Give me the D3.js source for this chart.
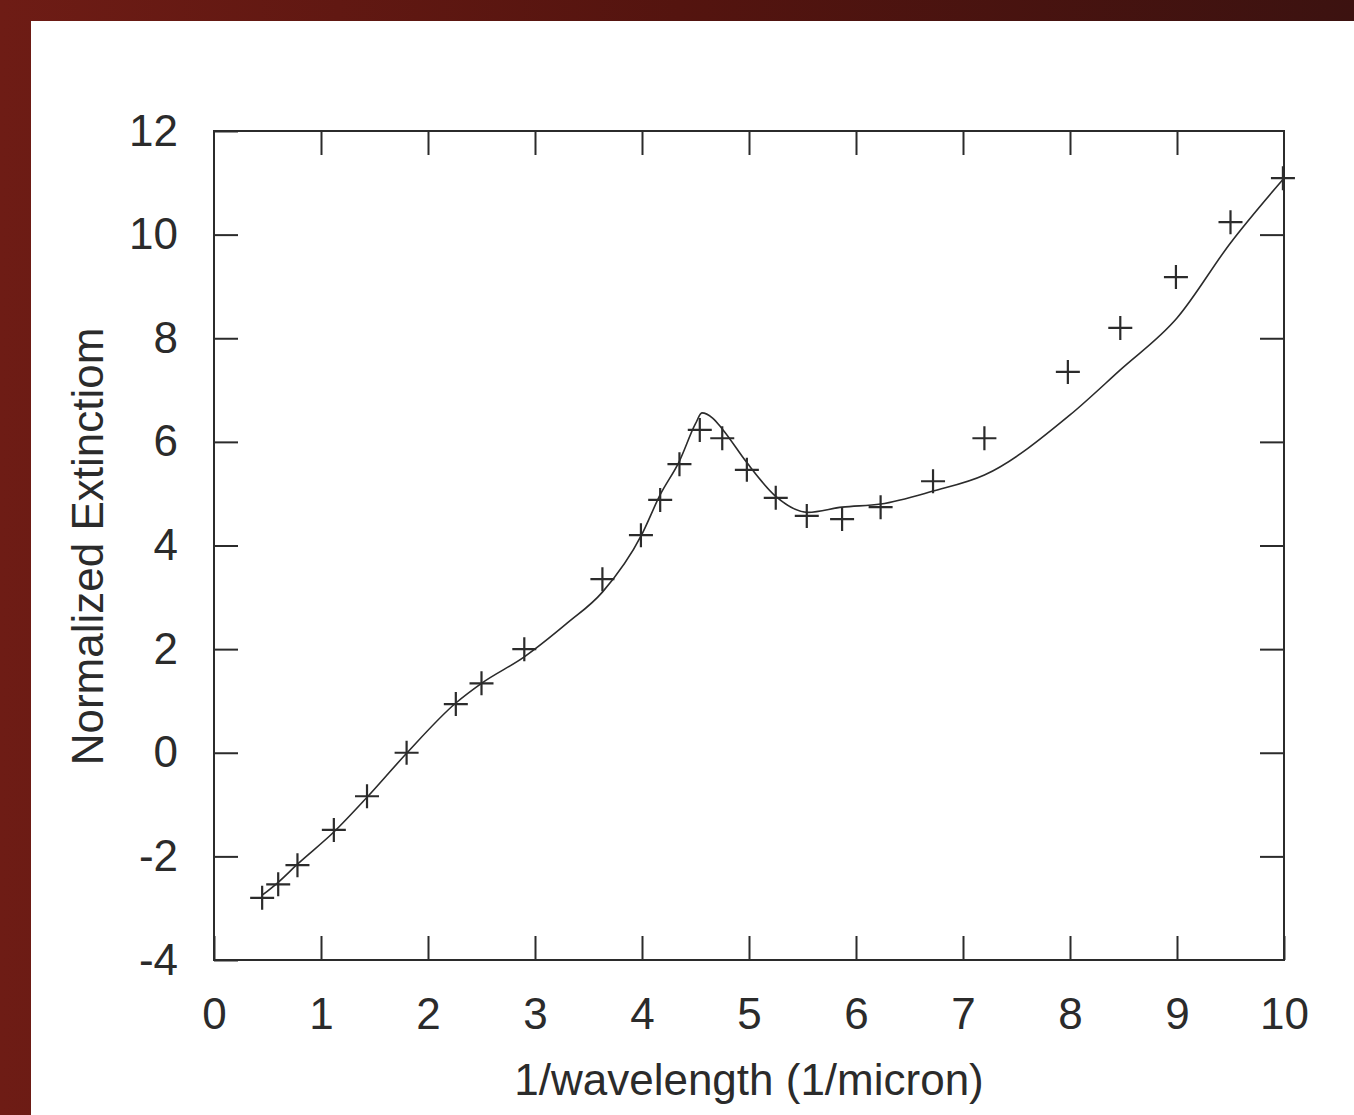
<!DOCTYPE html>
<html>
<head>
<meta charset="utf-8">
<script src="https://cdn.jsdelivr.net/npm/d3@7"></script>
<style>
  html, body { margin: 0; padding: 0; overflow: hidden; }
  svg { display: block; }
</style>
</head>
<body>
<div id="chart"></div>
<script>
// Measured extinction (crosses)
const obsX = [0.45, 0.6, 0.78, 1.12, 1.43, 1.8, 2.26, 2.5, 2.9, 3.63, 3.99, 4.17, 4.35, 4.54,
              4.75, 4.98, 5.25, 5.54, 5.87, 6.23, 6.72, 7.2, 7.98, 8.47, 8.99, 9.5, 9.99];
const obsY = [-2.8, -2.54, -2.17, -1.49, -0.84, 0.0, 0.94, 1.34, 2.0, 3.35, 4.2, 4.88, 5.57, 6.23,
              6.07, 5.46, 4.92, 4.57, 4.51, 4.74, 5.24, 6.07, 7.35, 8.2, 9.18, 10.24, 11.09];

// Model curve (line)
const modelX = [0.45, 0.6, 0.78, 1.12, 1.43, 1.8, 2.26, 2.5, 2.9, 3.3, 3.63, 4.0, 4.17, 4.35, 4.5,
                4.56, 4.66, 4.75, 4.98, 5.25, 5.55, 5.87, 6.23, 6.72, 7.2, 8.0, 8.47, 9.0, 9.5, 10.0];
const modelY = [-2.75, -2.5, -2.15, -1.53, -0.86, -0.01, 0.96, 1.34, 1.85, 2.5, 3.1, 4.22, 4.98, 5.63, 6.35,
                6.56, 6.46, 6.25, 5.6, 4.95, 4.64, 4.74, 4.8, 5.05, 5.36, 6.52, 7.39, 8.39, 9.84, 11.09];

const xTicks = [0, 1, 2, 3, 4, 5, 6, 7, 8, 9, 10];
const yTicks = [-4, -2, 0, 2, 4, 6, 8, 10, 12];

const width = 1354, height = 1115;
const plot = {left: 214, right: 1284, top: 131, bottom: 960};
const ink = '#2b2b2b';
const font = '"Liberation Sans", Arial, Helvetica, sans-serif';

const svg = d3.select('#chart').append('svg')
    .attr('width', width)
    .attr('height', height);

// Background: dark red slide with white panel
const defs = svg.append('defs');
const grad = defs.append('linearGradient')
    .attr('id', 'bg')
    .attr('x1', '0').attr('y1', '0').attr('x2', '1').attr('y2', '0');
grad.append('stop').attr('offset', '0').attr('stop-color', '#6e1c15');
grad.append('stop').attr('offset', '0.5').attr('stop-color', '#54140f');
grad.append('stop').attr('offset', '1').attr('stop-color', '#3c1210');

svg.append('rect')
    .attr('width', width).attr('height', height)
    .attr('fill', 'url(#bg)');
svg.append('rect')
    .attr('x', 31).attr('y', 21)
    .attr('width', width - 31).attr('height', height - 21)
    .attr('fill', '#fff');

const x = d3.scaleLinear().domain([0, 10]).range([plot.left, plot.right]);
const y = d3.scaleLinear().domain([-4, 12]).range([plot.bottom, plot.top]);

const tickLen = 24;
const plain = d => String(d); // hyphen minus like the original

// Ticks on all four sides (gnuplot style, mirrored)
const axisStyle = g => {
    g.select('.domain').remove();
    g.selectAll('line').attr('stroke', ink).attr('stroke-width', 2);
    g.selectAll('text')
        .attr('font-family', font)
        .attr('font-size', '44px')
        .attr('fill', ink);
};

svg.append('g')
    .attr('transform', `translate(0,${plot.bottom})`)
    .call(d3.axisBottom(x).tickValues(xTicks).tickSize(-tickLen).tickPadding(38).tickFormat(plain))
    .call(axisStyle);

svg.append('g')
    .attr('transform', `translate(0,${plot.top})`)
    .call(d3.axisTop(x).tickValues(xTicks.slice(1, -1)).tickSize(-tickLen).tickFormat(''))
    .call(axisStyle);

svg.append('g')
    .attr('transform', `translate(${plot.left},0)`)
    .call(d3.axisLeft(y).tickValues(yTicks).tickSize(-tickLen).tickPadding(36).tickFormat(plain))
    .call(axisStyle);

svg.append('g')
    .attr('transform', `translate(${plot.right},0)`)
    .call(d3.axisRight(y).tickValues(yTicks.slice(1, -1)).tickSize(-tickLen).tickFormat(''))
    .call(axisStyle);

// Frame
svg.append('rect')
    .attr('x', plot.left).attr('y', plot.top)
    .attr('width', plot.right - plot.left).attr('height', plot.bottom - plot.top)
    .attr('fill', 'none')
    .attr('stroke', ink)
    .attr('stroke-width', 2);

// Model line
const modelData = modelX.map((v, i) => ({x: v, y: modelY[i]}));
svg.append('path')
    .datum(modelData)
    .attr('fill', 'none')
    .attr('stroke', ink)
    .attr('stroke-width', 1.6)
    .attr('d', d3.line().curve(d3.curveMonotoneX).x(d => x(d.x)).y(d => y(d.y)));

// Data crosses
const obsData = obsX.map((v, i) => ({x: v, y: obsY[i]}));
const arm = 12;
svg.append('g')
    .selectAll('path')
    .data(obsData)
    .enter()
    .append('path')
    .attr('d', d => `M${x(d.x) - arm},${y(d.y)}H${x(d.x) + arm}M${x(d.x)},${y(d.y) - arm}V${y(d.y) + arm}`)
    .attr('stroke', ink)
    .attr('stroke-width', 2.2)
    .attr('fill', 'none');

// Axis titles
svg.append('text')
    .attr('x', (plot.left + plot.right) / 2)
    .attr('y', 1095)
    .attr('text-anchor', 'middle')
    .attr('font-family', font)
    .attr('font-size', '44px')
    .attr('fill', ink)
    .text('1/wavelength (1/micron)');

svg.append('text')
    .attr('transform', `translate(103,${(325 + 768) / 2}) rotate(-90)`)
    .attr('text-anchor', 'middle')
    .attr('font-family', font)
    .attr('font-size', '44px')
    .attr('fill', ink)
    .text('Normalized Extinctiom');
</script>
</body>
</html>
